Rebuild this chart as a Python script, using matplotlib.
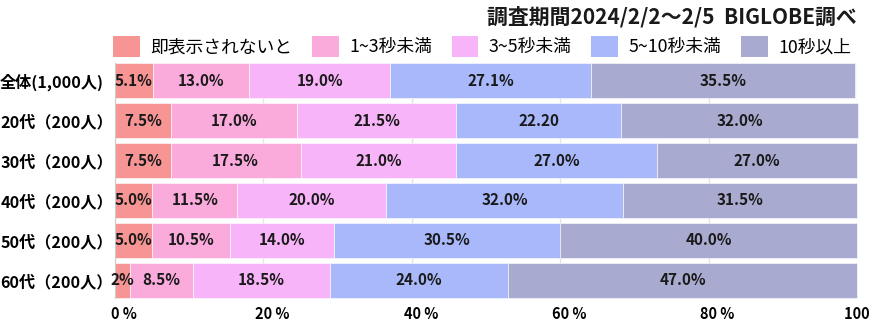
import matplotlib
matplotlib.use("Agg")
import matplotlib.pyplot as plt
from matplotlib.patches import Patch
import matplotlib.transforms as mtransforms

plt.rcParams['font.family'] = ['Noto Sans CJK JP', 'DejaVu Sans']

categories = ["全体(1,000人)", "20代（200人）", "30代（200人）", "40代（200人）", "50代（200人）", "60代（200人）"]
series_names = ["即表示されないと", "1~3秒未満", "3~5秒未満", "5~10秒未満", "10秒以上"]
instant = [5.1, 7.5, 7.5, 5.0, 5.0, 2.0]
s1_3 = [13.0, 17.0, 17.5, 11.5, 10.5, 8.5]
s3_5 = [19.0, 21.5, 21.0, 20.0, 14.0, 18.5]
s5_10 = [27.1, 22.2, 27.0, 32.0, 30.5, 24.0]
s10p = [35.5, 32.0, 27.0, 31.5, 40.0, 47.0]
labels_instant = ["5.1%", "7.5%", "7.5%", "5.0%", "5.0%", "2%"]
labels_1_3 = ["13.0%", "17.0%", "17.5%", "11.5%", "10.5%", "8.5%"]
labels_3_5 = ["19.0%", "21.5%", "21.0%", "20.0%", "14.0%", "18.5%"]
labels_5_10 = ["27.1%", "22.20", "27.0%", "32.0%", "30.5%", "24.0%"]
labels_10p = ["35.5%", "32.0%", "27.0%", "31.5%", "40.0%", "47.0%"]
x_ticks = [0, 20, 40, 60, 80, 100]
x_ticklabels = ["0 %", "20 %", "40 %", "60 %", "80 %", "100 %"]
title = "調査期間2024/2/2〜2/5  BIGLOBE調べ"

colors = ["#F79494", "#FBAADC", "#F8B4F8", "#A8B8FA", "#A9AAD0"]

W, H = 873, 330
fig = plt.figure(figsize=(W / 100, H / 100), dpi=100)
ax = fig.add_axes([115 / W, 1 - 298 / H, (857 - 115) / W, (298 - 63) / H])

series = [instant, s1_3, s3_5, s5_10, s10p]
labels = [labels_instant, labels_1_3, labels_3_5, labels_5_10, labels_10p]
ypos = list(range(len(categories)))
left = [0.0] * len(categories)
bh = 0.88
for vals, labs, c in zip(series, labels, colors):
    ax.barh(ypos, vals, left=left, height=bh, color=c, edgecolor="white",
            linewidth=0.4, zorder=2, clip_on=False)
    for i, (v, l) in enumerate(zip(vals, labs)):
        ax.text(left[i] + v / 2, ypos[i], l, ha="center", va="center",
                fontsize=11, fontweight="bold", color="#1a1a1a", zorder=3)
    left = [a + b for a, b in zip(left, vals)]

ax.set_xlim(0, 100)
ax.set_ylim(len(categories) - 1 + bh / 2, -bh / 2)
ax.set_yticks(ypos)
ax.set_yticklabels(categories, fontsize=11.6, fontweight="bold")
ax.tick_params(axis="y", length=0)
ax.set_xticks(x_ticks)
ax.set_xticklabels(x_ticklabels, fontsize=10.5, fontweight="bold")
ax.tick_params(axis="x", length=0, pad=6)
offset = mtransforms.ScaledTranslation(9 / 100, 0, fig.dpi_scale_trans)
for lab in ax.get_xticklabels():
    lab.set_transform(lab.get_transform() + offset)
for lab in ax.get_yticklabels():
    lab.set_horizontalalignment("left")
    lab.set_transform(lab.get_transform() + mtransforms.ScaledTranslation(-110 / 100, 0, fig.dpi_scale_trans))

ax.grid(axis="x", color="#e3e3e3", linewidth=1, zorder=0)
ax.set_axisbelow(True)
for s in ["top", "right", "bottom"]:
    ax.spines[s].set_visible(False)
ax.spines["left"].set_color("#cccccc")

fig.text(857 / W, 1 - 17 / H, title, ha="right", va="center", fontsize=15, fontweight="bold", color="#1a1a1a")

handles = [Patch(facecolor=c, edgecolor="none") for c in colors]
leg = fig.legend(handles, series_names, loc="center left", bbox_to_anchor=(113 / W, 1 - 46.5 / H),
                 ncol=5, frameon=False, fontsize=12.8, handlelength=1.5, handleheight=1.4,
                 columnspacing=1.1, handletextpad=0.6, borderaxespad=0, borderpad=0)

fig.savefig("out.png", dpi=100, facecolor="white")
